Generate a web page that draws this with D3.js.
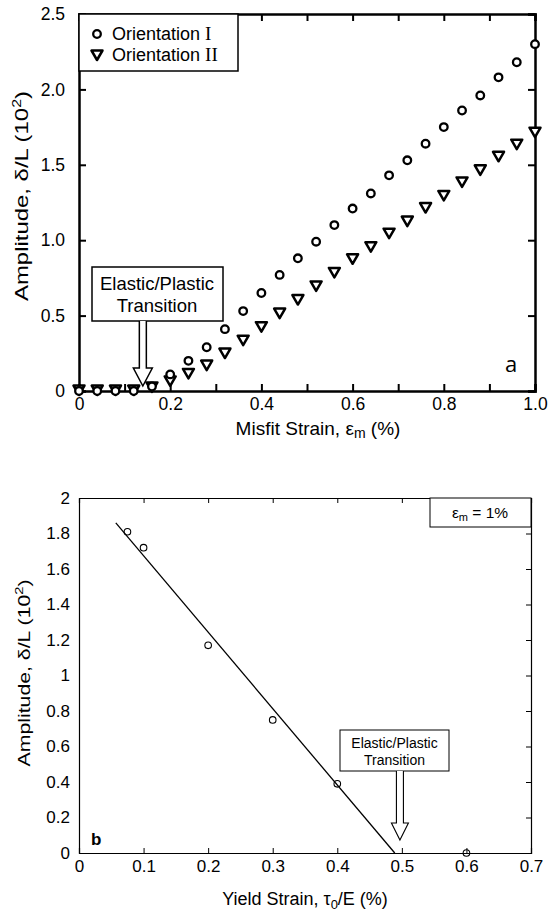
<!DOCTYPE html>
<html>
<head>
<meta charset="utf-8">
<script src="https://cdn.jsdelivr.net/npm/d3@7"></script>
<style>
  body { margin: 0; background: #fff; }
  svg { display: block; font-family: "Liberation Sans", Arial, sans-serif; }
</style>
</head>
<body>
<svg id="chart"></svg>
<script>
// panel a: misfit strain vs amplitude
const strainA = d3.range(0, 26).map(i => +(i * 0.04).toFixed(2));
const orientI = [0, 0, 0, 0, 0.03, 0.11, 0.20, 0.29, 0.41, 0.53, 0.65, 0.77, 0.88, 0.99, 1.10, 1.21,
                 1.31, 1.43, 1.53, 1.64, 1.75, 1.86, 1.96, 2.08, 2.18, 2.30];
const orientII = [0, 0, 0, 0, 0.02, 0.06, 0.11, 0.165, 0.245, 0.33, 0.42, 0.51, 0.60, 0.69, 0.78, 0.87,
                  0.95, 1.04, 1.12, 1.21, 1.29, 1.38, 1.46, 1.55, 1.63, 1.71];
const ticksA_x = d3.range(0, 11).map(i => i / 10);
const ticksA_y = [0, 0.5, 1.0, 1.5, 2.0, 2.5];
const arrowA = { x: 0.14, y: 0 };

// panel b: yield strain vs amplitude
const yieldB = [0.075, 0.1, 0.2, 0.3, 0.4, 0.6];
const ampB = [1.81, 1.72, 1.17, 0.75, 0.39, 0];
const fitB = [[0.057, 1.86], [0.489, 0]];
const ticksB_x = [0, 0.1, 0.2, 0.3, 0.4, 0.5, 0.6, 0.7];
const ticksB_y = [0, 0.2, 0.4, 0.6, 0.8, 1, 1.2, 1.4, 1.6, 1.8, 2];
const arrowB = { x: 0.497, y: 0 };

const W = 548, H = 916;
const svg = d3.select("#chart").attr("width", W).attr("height", H);
const triPath = "M-5.5,-4.5 L5.5,-4.5 L0,5 Z";

// hollow down arrow, tip at (tx,ty)
function arrowPath(tx, ty, top, shaftHalf, headHalf, headH) {
    const hy = ty - headH;
    return `M${tx - shaftHalf},${top} L${tx - shaftHalf},${hy} L${tx - headHalf},${hy} L${tx},${ty}
            L${tx + headHalf},${hy} L${tx + shaftHalf},${hy} L${tx + shaftHalf},${top}`;
}

// ---------- panel a ----------
{
    const x = d3.scaleLinear().domain([0, 1]).range([79, 535]);
    const y = d3.scaleLinear().domain([0, 2.5]).range([391, 14]);
    const g = svg.append("g");
    const fmtX = d => (Math.round(d * 10) % 2 === 0 ? (d === 0 ? "0" : d.toFixed(1)) : "");
    const fmtY = d => (d === 0 ? "0" : d.toFixed(1));

    const xb = g.append("g").attr("transform", `translate(0,${y(0)})`)
        .call(d3.axisBottom(x).tickValues(ticksA_x).tickSize(-7).tickPadding(7).tickFormat(fmtX));
    const xt = g.append("g").attr("transform", `translate(0,${y(2.5)})`)
        .call(d3.axisTop(x).tickValues(ticksA_x).tickSize(-7).tickFormat(""));
    const yl = g.append("g").attr("transform", `translate(${x(0)},0)`)
        .call(d3.axisLeft(y).tickValues(ticksA_y).tickSize(-7).tickPadding(14).tickFormat(fmtY));
    const yr = g.append("g").attr("transform", `translate(${x(1)},0)`)
        .call(d3.axisRight(y).tickValues(ticksA_y).tickSize(-7).tickFormat(""));
    [xb, xt, yl, yr].forEach(a => {
        a.select(".domain").attr("stroke-width", 2.5).attr("stroke", "#000");
        a.selectAll(".tick line").attr("stroke-width", 2);
        a.selectAll("text").attr("font-size", 17.5).attr("fill", "#000").attr("font-family", "Liberation Sans, Arial, sans-serif");
    });

    // data
    g.append("g").selectAll("path.tri").data(strainA).enter().append("path")
        .attr("d", triPath)
        .attr("transform", (d, i) => `translate(${x(d)},${y(orientII[i]) - 1})`)
        .attr("fill", "#fff").attr("stroke", "#000").attr("stroke-width", 2.5).attr("stroke-linejoin", "round");
    g.append("g").selectAll("circle").data(strainA).enter().append("circle")
        .attr("cx", d => x(d)).attr("cy", (d, i) => y(orientI[i]))
        .attr("r", 3.8).attr("fill", "#fff").attr("stroke", "#000").attr("stroke-width", 2.3);

    // legend
    g.append("rect").attr("x", 79).attr("y", 14).attr("width", 159).attr("height", 57)
        .attr("fill", "#fff").attr("stroke", "#000").attr("stroke-width", 1.5);
    g.append("circle").attr("cx", 97).attr("cy", 34).attr("r", 3.8)
        .attr("fill", "#fff").attr("stroke", "#000").attr("stroke-width", 2.3);
    g.append("path").attr("d", triPath).attr("transform", "translate(97,55)")
        .attr("fill", "#fff").attr("stroke", "#000").attr("stroke-width", 2.5).attr("stroke-linejoin", "round");
    const leg = [["Orientation ", "I", 40], ["Orientation ", "II", 61]];
    leg.forEach(([a, b, yy]) => {
        const t = g.append("text").attr("x", 112).attr("y", yy).attr("font-size", 18);
        t.append("tspan").text(a);
        t.append("tspan").attr("font-family", "Liberation Serif, Times New Roman, serif").attr("font-size", 19).text(b);
    });

    // annotation
    g.append("rect").attr("x", 92).attr("y", 267).attr("width", 131).attr("height", 54)
        .attr("fill", "#fff").attr("stroke", "#000").attr("stroke-width", 1.5);
    g.append("text").attr("x", 157).attr("y", 290).attr("text-anchor", "middle").attr("font-size", 18.5).text("Elastic/Plastic");
    g.append("text").attr("x", 157).attr("y", 312).attr("text-anchor", "middle").attr("font-size", 18.5).text("Transition");
    g.append("path").attr("d", arrowPath(x(arrowA.x), y(arrowA.y) - 5, 321, 3.5, 9.5, 18))
        .attr("fill", "#fff").attr("stroke", "#000").attr("stroke-width", 1.5);

    g.append("text").attr("x", 505).attr("y", 372).attr("font-size", 22)
        .attr("font-family", "Open Sans, sans-serif").text("a");

    // axis titles
    const xtit = g.append("text").attr("x", 318).attr("y", 435).attr("text-anchor", "middle").attr("font-size", 19);
    xtit.append("tspan").text("Misfit Strain, ε");
    xtit.append("tspan").attr("font-size", 14).attr("dy", 3).text("m");
    xtit.append("tspan").attr("dy", -3).text(" (%)");

    const ytit = g.append("text").attr("transform", "translate(28,196) rotate(-90) scale(1.33,1)")
        .attr("text-anchor", "middle").attr("font-size", 18);
    ytit.append("tspan").text("Amplitude, δ/L (10");
    ytit.append("tspan").attr("font-size", 12).attr("dy", -7).text("2");
    ytit.append("tspan").attr("dy", 7).text(")");
}

// ---------- panel b ----------
{
    const x = d3.scaleLinear().domain([0, 0.7]).range([79, 531]);
    const y = d3.scaleLinear().domain([0, 2]).range([853, 498]);
    const g = svg.append("g");
    const fmtX = d => (d === 0 ? "0" : d.toFixed(1));
    const fmtY = d => String(+d.toFixed(1));

    const xb = g.append("g").attr("transform", `translate(0,${y(0)})`)
        .call(d3.axisBottom(x).tickValues(ticksB_x).tickSize(-5).tickPadding(7).tickFormat(fmtX));
    const xt = g.append("g").attr("transform", `translate(0,${y(2)})`)
        .call(d3.axisTop(x).tickValues(ticksB_x).tickSize(-5).tickFormat(""));
    const yl = g.append("g").attr("transform", `translate(${x(0)},0)`)
        .call(d3.axisLeft(y).tickValues(ticksB_y).tickSize(0).tickPadding(9).tickFormat(fmtY));
    const yr = g.append("g").attr("transform", `translate(${x(0.7)},0)`)
        .call(d3.axisRight(y).tickValues(ticksB_y).tickSize(-5).tickFormat(""));
    [xb, xt, yl, yr].forEach(a => {
        a.select(".domain").attr("stroke-width", 1.2).attr("stroke", "#000");
        a.selectAll(".tick line").attr("stroke-width", 1);
        a.selectAll("text").attr("font-size", 17).attr("fill", "#000").attr("font-family", "Liberation Sans, Arial, sans-serif");
    });

    g.append("line")
        .attr("x1", x(fitB[0][0])).attr("y1", y(fitB[0][1]))
        .attr("x2", x(fitB[1][0])).attr("y2", y(fitB[1][1]))
        .attr("stroke", "#000").attr("stroke-width", 1.3);

    g.append("g").selectAll("circle").data(yieldB).enter().append("circle")
        .attr("cx", d => x(d)).attr("cy", (d, i) => y(ampB[i]))
        .attr("r", 3.3).attr("fill", "none").attr("stroke", "#000").attr("stroke-width", 1.1);

    // eps box
    g.append("rect").attr("x", 430).attr("y", 498).attr("width", 101).attr("height", 29)
        .attr("fill", "#fff").attr("stroke", "#000").attr("stroke-width", 1);
    const eps = g.append("text").attr("x", 480).attr("y", 518).attr("text-anchor", "middle").attr("font-size", 15.5);
    eps.append("tspan").text("ε");
    eps.append("tspan").attr("font-size", 11).attr("dy", 3).text("m");
    eps.append("tspan").attr("dy", -3).text(" = 1%");

    // annotation
    g.append("rect").attr("x", 340).attr("y", 730).attr("width", 109).attr("height", 41)
        .attr("fill", "#fff").attr("stroke", "#000").attr("stroke-width", 1);
    g.append("text").attr("x", 394.5).attr("y", 748).attr("text-anchor", "middle").attr("font-size", 14).text("Elastic/Plastic");
    g.append("text").attr("x", 394.5).attr("y", 765).attr("text-anchor", "middle").attr("font-size", 14).text("Transition");
    g.append("path").attr("d", arrowPath(x(arrowB.x), y(arrowB.y) - 13, 771, 3.5, 8.5, 17))
        .attr("fill", "#fff").attr("stroke", "#000").attr("stroke-width", 1.1);

    g.append("text").attr("x", 91).attr("y", 845).attr("font-size", 17).attr("font-weight", "bold").text("b");

    const xtit = g.append("text").attr("x", 305).attr("y", 905).attr("text-anchor", "middle").attr("font-size", 18);
    xtit.append("tspan").text("Yield Strain, τ");
    xtit.append("tspan").attr("font-size", 13).attr("dy", 4).text("0");
    xtit.append("tspan").attr("dy", -4).text("/E (%)");

    const ytit = g.append("text").attr("transform", "translate(30,673) rotate(-90) scale(1.33,1)")
        .attr("text-anchor", "middle").attr("font-size", 16);
    ytit.append("tspan").text("Amplitude, δ/L (10");
    ytit.append("tspan").attr("font-size", 11).attr("dy", -7).text("2");
    ytit.append("tspan").attr("dy", 7).text(")");
}
</script>
</body>
</html>
